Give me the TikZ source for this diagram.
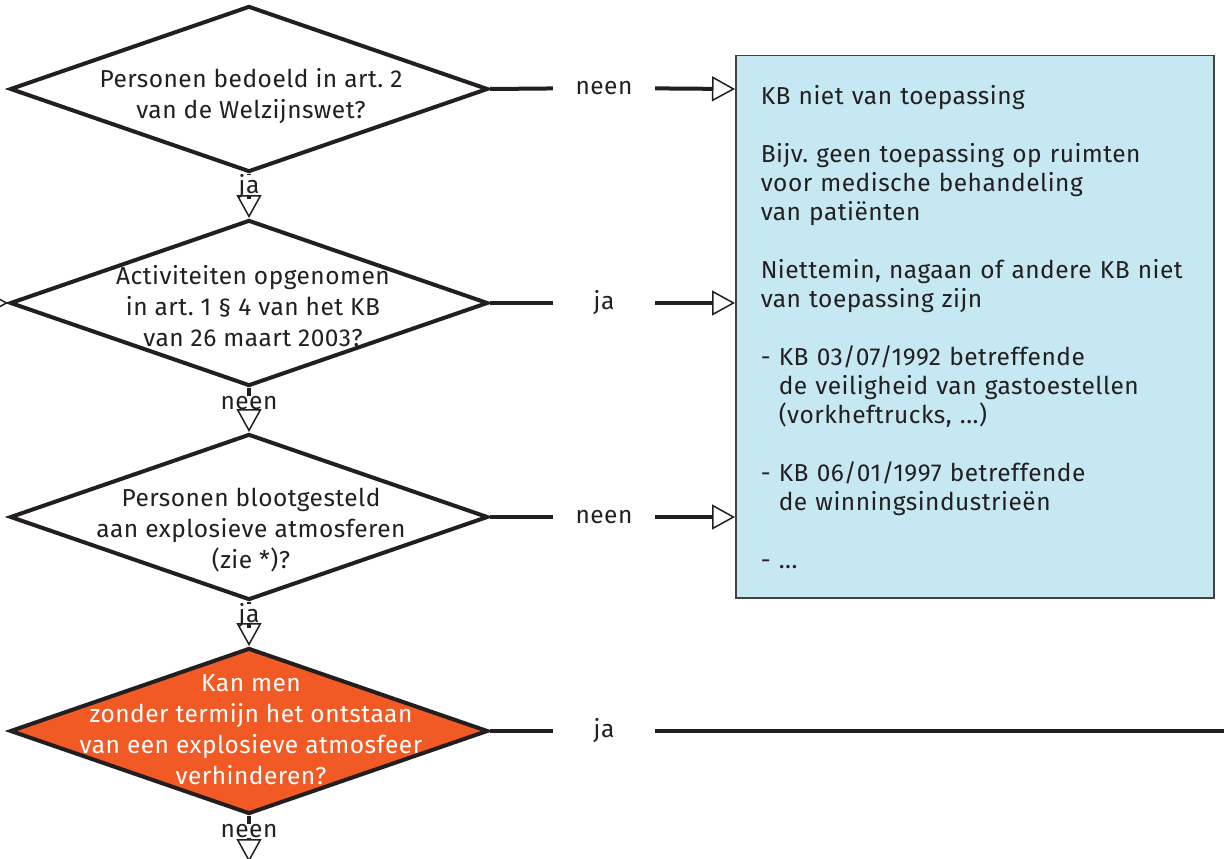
\documentclass[tikz,border=0pt]{standalone}
\usepackage{fontspec}
\setmainfont{Fira Sans}[LetterSpace=2]
\frenchspacing
\usetikzlibrary{shapes.geometric,arrows.meta}
\definecolor{ink}{HTML}{231F20}
\definecolor{boxblue}{HTML}{C6E8F2}
\definecolor{alarm}{HTML}{F15A24}
\tikzset{
  question/.style={diamond,draw=ink,line width=4pt,minimum width=478pt,minimum height=166pt,inner sep=0pt},
  qtext/.style={align=center,text=ink,font=\fontsize{24.5}{31}\selectfont},
  answer/.style={text=ink,font=\fontsize{24.5}{28}\selectfont,inner sep=0pt},
  gap/.style={answer,minimum width=102pt},
  link/.style={draw=ink,line width=4pt},
  arrowto/.style={link,-{Triangle[open,length=23pt,width=25pt,line width=1.5pt]}}
}
\begin{document}
\begin{tikzpicture}[x=1pt,y=-1pt]
\useasboundingbox (0,0) rectangle (1224,859);

% questions
\node[question,fill=white] (q1) at (249,89) {};
\node[qtext] (t1) at (251,96) {Personen bedoeld in art. 2\\van de Welzijnswet?};
\node[question,fill=white] (q2) at (249,303) {};
\node[qtext] (t2) at (253,306) {Activiteiten opgenomen\\in art. 1 § 4 van het KB\\van 26 maart 2003?};
\node[question,fill=white] (q3) at (249,517) {};
\node[qtext] (t3) at (251,530) {Personen blootgesteld\\aan explosieve atmosferen\\(zie *)?};
\node[question,fill=alarm] (q4) at (249,731) {};
\node[qtext,text=white] (t4) at (251,730) {Kan men\\zonder termijn het ontstaan\\van een explosieve atmosfeer\\verhinderen?};

% result box
\node[draw=ink!85,line width=1.5pt,fill=boxblue,anchor=north west,minimum width=478pt,minimum height=542pt,
      text width=428pt,inner xsep=25pt,inner ysep=0pt,align=left,text=ink,font=\fontsize{24.5}{29}\selectfont]
      (kb) at (735,55) {KB niet van toepassing\\[29pt]
      Bijv. geen toepassing op ruimten\\
      voor medische behandeling\\
      van patiënten\\[29pt]
      Niettemin, nagaan of andere KB niet\\
      van toepassing zijn\\[29pt]
      - KB 03/07/1992 betreffende\\
      \phantom{- }de veiligheid van gastoestellen\\
      \phantom{- }(vorkheftrucks, ...)\\[29pt]
      - KB 06/01/1997 betreffende\\
      \phantom{- }de winningsindustrieën\\[29pt]
      - ...};

% answers
\node[answer] (a1) at (249,187) {ja};
\node[answer] (a2) at (249,403) {neen};
\node[answer] (a3) at (249,616) {ja};
\node[answer] (a4) at (249,831) {neen};
\node[gap] (b1) at (604,88) {neen};
\node[gap] (b2) at (604,303) {ja};
\node[gap] (b3) at (604,517) {neen};
\node[gap] (b4) at (604,731) {ja};
\coordinate (in) at (-20,303);
\coordinate (down) at (249,862);
\coordinate (out) at (1230,731);

% downward connectors
\draw[link] (q1.south) -- (a1);
\draw[arrowto] (a1) -- (q2.north);
\draw[link] (q2.south) -- (a2);
\draw[arrowto] (a2) -- (q3.north);
\draw[link] (q3.south) -- (a3);
\draw[arrowto] (a3) -- (q4.north);
\draw[link] (q4.south) -- (a4);
\draw[arrowto] (a4) -- (down);
\draw[arrowto] (in) -- (q2.west);

% connectors to the right
\draw[link] (q1.east) -- (b1);
\draw[arrowto] (b1) -- (q1.east -| kb.west);
\draw[link] (q2.east) -- (b2);
\draw[arrowto] (b2) -- (q2.east -| kb.west);
\draw[link] (q3.east) -- (b3);
\draw[arrowto] (b3) -- (q3.east -| kb.west);
\draw[link] (q4.east) -- (b4);
\draw[link] (b4) -- (out);

\end{tikzpicture}
\end{document}
